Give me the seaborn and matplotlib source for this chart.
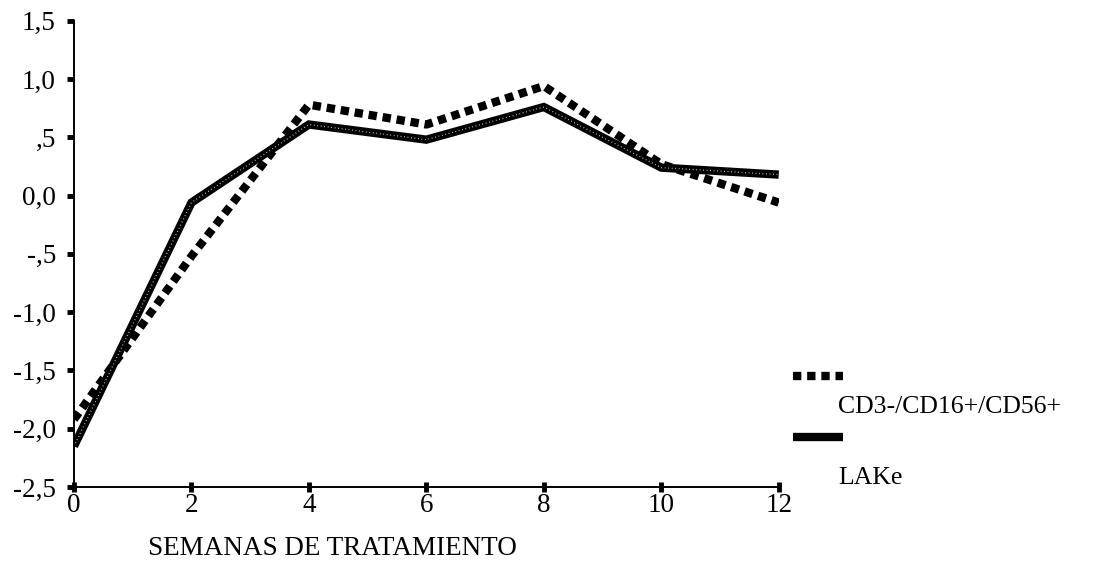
import numpy as np
import pandas as pd
import matplotlib
matplotlib.use("Agg")
import matplotlib.pyplot as plt
from matplotlib.lines import Line2D
import seaborn as sns

# Weeks of treatment and mean change for each cell population
weeks = [0, 2, 4, 6, 8, 10, 12]
cd3_cd16_cd56 = [-1.92, -0.52, 0.78, 0.61, 0.94, 0.27, -0.06]
lake = [-2.15, -0.06, 0.61, 0.48, 0.76, 0.24, 0.18]

series_names = ["CD3-/CD16+/CD56+", "LAKe"]
y_ticks = [-2.5, -2.0, -1.5, -1.0, -0.5, 0.0, 0.5, 1.0, 1.5]
y_tick_labels = ["-2,5", "-2,0", "-1,5", "-1,0", "-,5", "0,0", ",5", "1,0", "1,5"]
x_label = "SEMANAS DE TRATAMIENTO"

sns.set_theme(style="white")
plt.rcParams["font.family"] = ["Liberation Serif", "DejaVu Serif"]

fig = plt.figure(figsize=(11.06, 5.77), dpi=100)
ax = fig.add_axes([0.0669, 0.156, 0.6372, 0.808])

dot_dash = (0, (1.0, 0.7))
lw = 6.0

sns.lineplot(x=weeks, y=cd3_cd16_cd56, ax=ax, color="black", linewidth=lw)
sns.lineplot(x=weeks, y=lake, ax=ax, color="black", linewidth=lw)
dotted_line, solid_line = ax.lines[0], ax.lines[1]
dotted_line.set_linestyle(dot_dash)
dotted_line.set_dash_capstyle("butt")
solid_line.set_solid_capstyle("butt")
solid_line.set_solid_joinstyle("miter")

# light speckle inside the solid stroke
ax.plot(weeks, lake, color="white", linewidth=0.9,
        linestyle=(0, (0.6, 2.2)), alpha=0.9)

ax.set_xlim(0, 12)
ax.set_ylim(-2.5, 1.5)
ax.set_xticks(weeks)
ax.set_xticklabels([str(w) for w in weeks])
ax.set_yticks(y_ticks)
ax.set_yticklabels(y_tick_labels)

for side in ["top", "right"]:
    ax.spines[side].set_visible(False)
for side in ["left", "bottom"]:
    ax.spines[side].set_visible(True)
    ax.spines[side].set_color("black")
    ax.spines[side].set_linewidth(1.4)

ax.tick_params(axis="y", which="major", direction="out", length=5, width=3.5,
               color="black", labelsize=19.5, pad=8, left=True)
ax.tick_params(axis="x", which="major", direction="inout", length=7, width=3.5,
               color="black", labelsize=19.5, pad=1, bottom=True)
for lab in ax.get_xticklabels() + ax.get_yticklabels():
    lab.set_color("black")

ax.set_xlabel("")
ax.set_ylabel("")
fig.text(0.1338, 0.050, x_label, fontsize=19.5, color="black",
         ha="left", va="center")

# legend: sample line above, label underneath
def fig_xy(px, py):
    return px / 1106.0, 1.0 - py / 577.0

x0, _ = fig_xy(793, 0)
x1, _ = fig_xy(843, 0)
_, yd = fig_xy(0, 376)
_, ys = fig_xy(0, 437)
fig.add_artist(Line2D([x0, x1], [yd, yd], color="black", linewidth=lw,
                      linestyle=dot_dash, dash_capstyle="butt"))
fig.add_artist(Line2D([x0, x1], [ys, ys], color="black", linewidth=lw,
                      solid_capstyle="butt"))
tx, ty1 = fig_xy(838, 407)
_, ty2 = fig_xy(0, 478)
fig.text(tx, ty1, series_names[0], fontsize=18.5, color="black", ha="left", va="center")
fig.text(tx, ty2, series_names[1], fontsize=18.5, color="black", ha="left", va="center")

fig.savefig("out.png", dpi=100)
